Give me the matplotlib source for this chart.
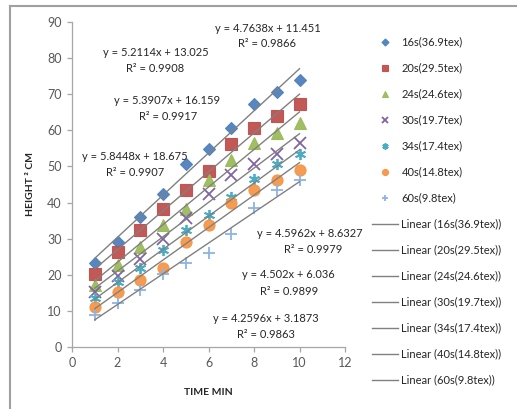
import numpy as np
import matplotlib
matplotlib.use("Agg")
import matplotlib.pyplot as plt
from matplotlib.lines import Line2D

plt.rcParams['font.family'] = ['Lato', 'DejaVu Sans']

# ---------------- data ----------------
time_min = [1, 2, 3, 4, 5, 6, 7, 8, 9, 10]
series_names = ["16s(36.9tex)", "20s(29.5tex)", "24s(24.6tex)", "30s(19.7tex)",
                "34s(17.4tex)", "40s(14.8tex)", "60s(9.8tex)"]
h16 = [23.1, 29.0, 36.1, 42.3, 50.6, 54.8, 60.8, 67.2, 70.6, 74.0]
h20 = [20.2, 26.2, 32.4, 38.2, 43.6, 48.8, 56.1, 60.8, 64.1, 67.2]
h24 = [17.1, 22.7, 27.7, 33.8, 38.2, 46.2, 51.8, 56.4, 59.2, 62.1]
h30 = [15.2, 19.6, 24.3, 29.8, 35.6, 42.3, 47.6, 50.6, 53.6, 56.6]
h34 = [13.6, 18.0, 21.7, 26.8, 32.4, 36.5, 41.6, 46.4, 50.7, 53.5]
h40 = [11.1, 15.1, 18.5, 21.9, 29.1, 33.8, 39.8, 43.6, 46.2, 48.9]
h60 = [8.8, 12.2, 15.7, 20.2, 23.1, 25.9, 31.4, 38.6, 43.5, 46.2]
slopes = ["5.8448", "5.3907", "5.2114", "4.7638", "4.5962", "4.502", "4.2596"]
intercepts = ["18.675", "16.159", "13.025", "11.451", "8.6327", "6.036", "3.1873"]
r_squared = ["0.9907", "0.9917", "0.9908", "0.9866", "0.9979", "0.9899", "0.9863"]
x_ticks = [0, 2, 4, 6, 8, 10, 12]
y_ticks = [0, 10, 20, 30, 40, 50, 60, 70, 80, 90]

heights = [h16, h20, h24, h30, h34, h40, h60]

# ---------------- styles ----------------
W, H = 517, 409
colors = ["#4F81BD", "#C0504D", "#9BBB59", "#8064A2", "#4BACC6", "#F79646", "#8EB4E3"]
markers = ["D", "s", "^", "x", (6, 2, 0), "o", "+"]
msizes = [6.5, 8.5, 8, 8, 8, 8, 8]
eq_pos = [(135, 156), (167.5, 100), (155.5, 52), (267.5, 28),
          (310, 233.5), (288.5, 275), (265.7, 318.5)]
r2_pos = [(135, 173), (168.5, 117), (155.5, 68.5), (267, 43.5),
          (313, 249.5), (289, 291.5), (265.5, 335)]

fig = plt.figure(figsize=(W / 100, H / 100), dpi=100)
fig.patch.set_facecolor("white")
ax = fig.add_axes([72 / W, 1 - 346.7 / H, (345 - 72) / W, (346.7 - 22.3) / H])

marker_handles = []
for i, (name, ys) in enumerate(zip(series_names, heights)):
    m = markers[i]
    if m in ("x", "+") or isinstance(m, tuple):
        h, = ax.plot(time_min, ys, linestyle="none", marker=m, ms=msizes[i],
                     mew=1.3, color=colors[i], label=name, zorder=3)
    else:
        h, = ax.plot(time_min, ys, linestyle="none", marker=m, ms=msizes[i],
                     mfc=colors[i], mec=colors[i], mew=0.8, color=colors[i],
                     label=name, zorder=3, alpha=0.95)
    marker_handles.append(h)

line_handles = []
xs = np.array([min(time_min), max(time_min)], dtype=float)
for i, name in enumerate(series_names):
    a, b = float(slopes[i]), float(intercepts[i])
    h, = ax.plot(xs, a * xs + b, color="#808080", lw=1.0, zorder=4,
                 label=f"Linear ({name})")
    line_handles.append(h)

ax.set_xlim(0, 12)
ax.set_ylim(0, 90)
ax.set_xticks(x_ticks)
ax.set_yticks(y_ticks)
for s in ("top", "right"):
    ax.spines[s].set_visible(False)
for s in ("left", "bottom"):
    ax.spines[s].set_color("#A6A6A6")
    ax.spines[s].set_linewidth(0.9)
ax.tick_params(axis="both", direction="out", length=3.5, width=0.9,
               color="#A6A6A6", labelcolor="#595959", labelsize=9, pad=4)

ax.set_xlabel("TIME MIN", fontsize=7.5, fontweight="bold", color="#262626")
ax.xaxis.set_label_coords(0.5, (346.7 - 388) / (346.7 - 22.3))
ax.set_ylabel("HEIGHT ² CM", fontsize=7.5, fontweight="bold", color="#262626")
ax.yaxis.set_label_coords((35 - 72) / (345 - 72), 0.5)

for i in range(len(series_names)):
    ex, ey = eq_pos[i]
    fig.text(ex / W, 1 - ey / H, f"y = {slopes[i]}x + {intercepts[i]}",
             ha="center", va="center", fontsize=8, color="#262626")
    rx, ry = r2_pos[i]
    fig.text(rx / W, 1 - ry / H, f"R² = {r_squared[i]}",
             ha="center", va="center", fontsize=8, color="#262626")

leg = ax.legend(handles=marker_handles + line_handles, loc="upper left",
                bbox_to_anchor=(372 / W, 1 - 36.5 / H), bbox_transform=fig.transFigure,
                frameon=False, fontsize=8, labelspacing=1.35, handlelength=2.3,
                handletextpad=0.35, markerscale=0.55, borderaxespad=0, borderpad=0)
for t in leg.get_texts():
    t.set_color("#262626")

# outer chart border (partly cropped)
fig.add_artist(Line2D([10 / W, 1.0], [1 - 6 / H, 1 - 6 / H], color="#A0A0A0",
                      lw=1.5, transform=fig.transFigure))
fig.add_artist(Line2D([10 / W, 10 / W], [0.0, 1 - 6 / H], color="#A0A0A0",
                      lw=1.5, transform=fig.transFigure))

fig.savefig("out.png", dpi=100)
